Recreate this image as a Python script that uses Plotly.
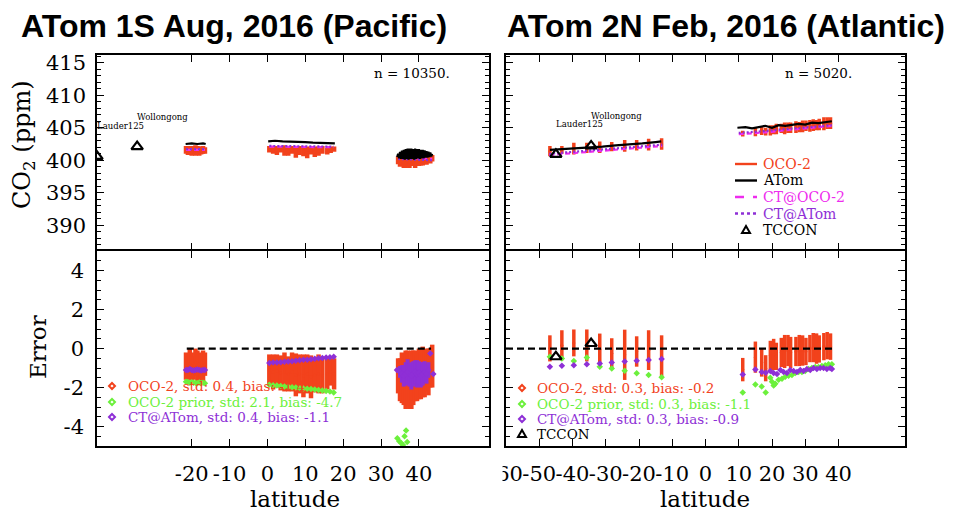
import plotly.graph_objects as go

# ======================= DATA =======================
# ---- Pacific (ATom 1S, Aug 2016) ----
pac_oco_lat = [-21.5, -21.0, -20.5, -20.0, -19.5, -19.0, -18.5, -18.0, -17.5, -17.0, -16.5,
               0.5, 1.5, 2.5, 3.5, 4.5, 5.5, 6.5, 7.5, 8.5, 9.5, 10.5, 11.5, 12.5, 13.5, 14.5, 15.8, 16.7, 17.6,
               34.5, 35.0, 35.5, 36.0, 36.5, 37.0, 37.5, 38.0, 38.5, 39.0, 39.5, 40.0, 40.5, 41.0, 41.5, 42.0,
               42.5, 43.0, 43.5]
pac_oco_co2 = [401.6, 401.5, 401.7, 401.4, 401.6, 401.5, 401.7, 401.4, 401.5, 401.6, 401.5,
               401.7, 401.6, 401.5, 401.7, 401.5, 401.4, 401.6, 401.3, 401.5, 401.4, 401.2, 401.5, 401.3, 401.4,
               401.6, 401.4, 401.6, 401.7,
               400.0, 399.8, 399.9, 399.7, 399.6, 399.8, 399.7, 399.9, 399.8, 399.7, 399.9, 399.8, 400.0, 399.9,
               400.1, 400.0, 400.2, 400.1, 400.3]
pac_oco_co2_spread = [0.6, 0.7, 0.5, 0.7, 0.6, 0.8, 0.5, 0.7, 0.6, 0.6, 0.5,
                      0.5, 0.6, 0.7, 0.5, 0.8, 0.7, 0.6, 0.9, 0.7, 0.8, 0.9, 0.6, 0.8, 0.7, 0.6, 0.5, 0.5, 0.4,
                      0.6, 0.8, 0.7, 0.9, 0.8, 0.7, 0.9, 0.8, 0.7, 0.9, 0.8, 0.7, 0.8, 0.7, 0.6, 0.7, 0.6, 0.6, 0.5]
pac_oco_err = [-0.9, -1.0, -0.8, -0.9, -1.0, -0.7, -0.9, -0.8, -1.0, -0.9, -0.8,
               -1.1, -1.2, -1.15, -1.25, -1.2, -1.3, -1.2, -1.35, -1.3, -1.4, -1.3, -1.45, -1.35, -1.3, -1.4,
               -1.3, -1.2, -1.3,
               -1.4, -1.6, -1.5, -1.7, -1.6, -1.5, -1.8, -1.6, -1.5, -1.4, -1.5, -1.3, -1.4, -1.2, -1.3, -1.1,
               -1.2, -1.0, -0.9]
pac_oco_err_spread = [0.7, 0.6, 0.8, 0.7, 0.6, 0.7, 0.8, 0.6, 0.7, 0.8, 0.6,
                      0.8, 0.9, 0.85, 0.9, 1.0, 0.9, 1.0, 1.1, 1.0, 1.1, 1.0, 1.1, 0.9, 1.0, 0.9, 0.8, 0.7, 0.8,
                      0.9, 1.1, 1.3, 1.2, 1.5, 1.4, 1.3, 1.5, 1.4, 1.3, 1.2, 1.3, 1.2, 1.3, 1.2, 1.1, 1.2, 1.0, 1.1]

pac_atom_lat = [-21.6, -20.0, -18.5, -17.0, -16.3, None,
                0.2, 2.0, 4.0, 6.0, 8.0, 10.0, 12.0, 14.0, 16.0, 17.8, None,
                34.25, 34.5, 34.75, 35.0, 35.25, 35.5, 35.75, 36.0, 36.25, 36.5, 36.75, 37.0, 37.25, 37.5,
                37.75, 38.0, 38.25, 38.5, 38.75, 39.0, 39.25, 39.5, 39.75, 40.0, 40.25, 40.5, 40.75, 41.0,
                41.25, 41.5, 41.75, 42.0, 42.25, 42.5, 42.75, 43.0, 43.25, 43.5]
pac_atom_co2 = [402.5, 402.6, 402.5, 402.6, 402.5, None,
                402.9, 403.0, 402.9, 402.9, 402.8, 402.8, 402.7, 402.7, 402.6, 402.6, None,
                400.5, 401.0, 400.3, 401.3, 400.2, 401.5, 400.2, 401.6, 400.1, 401.7, 400.2, 401.8, 400.1,
                401.8, 400.2, 401.8, 400.2, 401.7, 400.1, 401.8, 400.2, 401.7, 400.3, 401.7, 400.2, 401.6,
                400.3, 401.6, 400.3, 401.5, 400.4, 401.4, 400.4, 401.3, 400.5, 401.2, 400.6, 401.0]

pac_ctoco_lat = [-21.5, -16.5, None, 0.5, 17.5, None, 34.5, 43.5]
pac_ctoco_co2 = [401.6, 401.6, None, 402.1, 402.0, None, 400.4, 400.2]
pac_ctatom_lat = [-21.5, -16.5, None, 0.5, 17.5, None, 34.5, 43.5]
pac_ctatom_co2 = [401.7, 401.7, None, 402.2, 402.1, None, 400.2, 400.0]

pac_prior_lat = [-21.5, -21.0, -20.5, -20.0, -19.5, -19.0, -18.5, -18.0, -17.5, -17.0, -16.5,
                 0.5, 1.5, 2.5, 3.5, 4.5, 5.5, 6.5, 7.5, 8.5, 9.5, 10.5, 11.5, 12.5, 13.5, 14.5, 15.5, 16.5, 17.5,
                 34.3, 34.8, 35.3, 35.8, 36.2, 36.6, 36.9]
pac_prior_err = [-1.70, -1.72, -1.75, -1.73, -1.76, -1.75, -1.78, -1.74, -1.77, -1.76, -1.78,
                 -1.86, -1.88, -1.90, -1.92, -1.95, -1.96, -1.98, -2.00, -2.02, -2.05, -2.06, -2.08, -2.10,
                 -2.12, -2.15, -2.18, -2.20, -2.25,
                 -4.6, -4.75, -4.85, -4.95, -4.5, -4.2, -4.8]

pac_ct_lat = [-21.5, -21.0, -20.5, -20.0, -19.5, -19.0, -18.5, -18.0, -17.5, -17.0, -16.5,
              0.5, 1.5, 2.5, 3.5, 4.5, 5.5, 6.5, 7.5, 8.5, 9.5, 10.5, 11.5, 12.5, 13.5, 14.5, 15.5, 16.5, 17.5,
              34.2, 35.0, 35.5, 36.0, 36.5, 37.0, 37.5, 38.0, 38.5, 39.0, 39.5, 40.0, 40.5, 41.0, 41.5, 42.0,
              42.5, 43.0, 43.8, 43.8]
pac_ct_err = [-1.10, -1.10, -1.05, -1.10, -1.12, -1.10, -1.08, -1.10, -1.12, -1.10, -1.10,
              -0.74, -0.72, -0.71, -0.70, -0.68, -0.66, -0.65, -0.62, -0.60, -0.58, -0.57, -0.55, -0.52,
              -0.50, -0.48, -0.46, -0.44, -0.42,
              -1.1, -1.2, -1.3, -1.4, -1.3, -1.2, -1.35, -1.4, -1.3, -1.2, -1.3, -1.25, -1.35, -1.3, -1.2,
              -1.3, -1.1, -0.25, -1.3]
pac_ct_spread = [0.03, 0.03, 0.03, 0.03, 0.03, 0.03, 0.03, 0.03, 0.03, 0.03, 0.03,
                 0.03, 0.03, 0.03, 0.03, 0.03, 0.03, 0.03, 0.03, 0.03, 0.03, 0.03, 0.03, 0.03, 0.03, 0.03,
                 0.03, 0.03, 0.03,
                 0.05, 0.3, 0.45, 0.55, 0.6, 0.65, 0.6, 0.7, 0.65, 0.6, 0.7, 0.6, 0.65, 0.6, 0.55, 0.5, 0.4,
                 0.03, 0.03]

pac_zero_lat = [-21.3, 43.2]
pac_zero_val = [0, 0]

# ---- Atlantic (ATom 2N, Feb 2016) ----
atl_oco_lat = [-46.8, -43.2, -39.6, -35.7, -31.8, -28.2, -24.3, -20.7, -17.1, -13.2,
               11.2, 15.0, 16.9, 18.1,
               19.5, 20.5, 21.3, 22.8, 23.8, 24.8, 25.6, 27.2, 28.2, 29.2, 30.2, 31.4, 32.4, 33.4, 34.2,
               35.6, 36.6, 37.6]
atl_oco_co2 = [401.4, 401.6, 401.8, 401.9, 402.0, 402.1, 402.2, 402.3, 402.4, 402.5,
               404.1, 404.4, 404.5, 404.4,
               404.6, 404.7, 404.8, 404.9, 404.9, 405.0, 405.0, 405.1, 405.1, 405.2, 405.3, 405.3, 405.4,
               405.4, 405.5, 405.6, 405.7, 405.7]
atl_oco_co2_spread = [0.8, 0.6, 0.9, 0.8, 0.9, 0.7, 0.9, 0.8, 0.9, 0.9,
                      0.45, 0.7, 0.6, 0.6,
                      0.8, 0.7, 0.8, 0.7, 0.9, 0.8, 0.8, 0.9, 0.8, 0.9, 0.8, 0.9, 0.9, 0.8, 0.9, 1.0, 0.9, 0.9]
atl_oco_err = [0.01, 0.17, 0.29, 0.16, -0.03, -0.24, -0.32, -0.15, -0.08, -0.41,
               -1.08, -0.44, -0.72, -1.01,
               -0.35, -0.30, -0.40, -0.20, -0.15, -0.10, -0.20, -0.15, -0.10, -0.10, -0.15, 0.00, 0.05,
               0.00, -0.02, 0.10, 0.15, 0.10]
atl_oco_err_spread = [0.67, 0.77, 0.69, 0.82, 0.80, 0.77, 1.29, 0.78, 1.02, 1.09,
                      0.60, 0.80, 0.72, 0.67,
                      0.75, 0.80, 0.70, 0.75, 0.85, 0.80, 0.80, 0.75, 0.80, 0.78, 0.70, 0.70, 0.75, 0.78,
                      0.70, 0.70, 0.70, 0.68]

atl_atom_lat = [-46.8, -43.0, -39.0, -35.0, -31.0, -27.0, -23.0, -19.0, -15.0, -13.3, None,
                9.6, 12.0, 14.0, 16.0, 18.0, 20.0, 22.0, 24.0, 26.0, 28.0, 30.0, 32.0, 34.0, 36.0, 38.0]
atl_atom_co2 = [401.6, 401.7, 401.8, 402.0, 402.1, 402.3, 402.4, 402.6, 402.8, 402.9, None,
                405.0, 405.1, 404.9, 405.1, 405.3, 405.0, 405.4, 405.3, 405.5, 405.6, 405.5, 405.8, 405.7,
                405.9, 406.0]
atl_ctoco_lat = [-47.0, -13.0, None, 10.0, 14.0, 18.0, 22.0, 26.0, 30.0, 34.0, 38.0]
atl_ctoco_co2 = [400.8, 402.2, None, 404.0, 404.1, 404.3, 404.5, 404.7, 404.9, 405.1, 405.3]
atl_ctatom_lat = [-47.0, -13.0, None, 10.0, 14.0, 18.0, 22.0, 26.0, 30.0, 34.0, 38.0]
atl_ctatom_co2 = [401.0, 402.4, None, 404.2, 404.3, 404.5, 404.7, 404.9, 405.0, 405.2, 405.4]

atl_prior_lat = [-46.8, -43.2, -39.6, -35.7, -31.8, -28.2, -24.3, -20.7, -17.1, -13.2,
                 11.2, 15.0, 16.9, 18.1, 19.5, 20.0, 20.5, 21.0, 22.0, 23.0, 24.0, 25.0, 26.0, 27.0, 28.0,
                 29.0, 30.0, 31.0, 32.0, 33.0, 34.0, 35.0, 36.0, 37.0, 38.0]
atl_prior_err = [-0.42, -0.51, -0.64, -0.46, -0.93, -1.02, -1.14, -1.27, -1.36, -1.47,
                 -2.26, -1.85, -1.95, -2.26, -1.50, -1.70, -1.90, -1.80, -1.60, -1.55, -1.45, -1.40, -1.35,
                 -1.25, -1.20, -1.20, -1.15, -1.05, -1.00, -0.95, -0.95, -0.90, -0.85, -0.80, -0.80]
atl_ct_lat = [-46.8, -43.2, -39.6, -35.7, -31.8, -28.2, -24.3, -20.7, -17.1, -13.2,
              11.2, 15.0, 16.9, 18.1, 19.5, 20.5, 21.5, 22.5, 23.5, 24.5, 25.5, 26.5, 27.5, 28.5, 29.5,
              30.5, 31.5, 32.5, 33.5, 34.5, 35.5, 36.5, 37.5, 38.0]
atl_ct_err = [-0.93, -0.88, -0.85, -0.81, -0.76, -0.71, -0.66, -0.62, -0.59, -0.54,
              -1.33, -1.08, -1.20, -1.24, -1.15, -1.25, -1.30, -1.10, -1.20, -1.25, -1.10, -1.15, -1.20,
              -1.10, -1.15, -1.05, -1.10, -1.00, -1.05, -1.00, -1.00, -1.05, -1.00, -1.05]
atl_zero_lat = [-60.0, 38.2]
atl_zero_val = [0, 0]

# ---- TCCON ----
tccon_names = ["Lauder125", "Wollongong"]
tccon_lat = [-45.0, -34.4]
pac_tccon_co2 = [400.6, 402.1]
atl_tccon_co2 = [400.9, 402.2]
atl_tccon_err = [-0.42, 0.26]

# ---- ticks / texts ----
co2_ticks = [390, 395, 400, 405, 410, 415]
err_ticks = [-4, -2, 0, 2, 4]
err_ticktext = ["-4", "-2", "0", "2", "4"]
pac_xticks = [-20, -10, 0, 10, 20, 30, 40]
pac_xticktext = ["-20", "-10", "0", "10", "20", "30", "40"]
atl_xticks = [-60, -50, -40, -30, -20, -10, 0, 10, 20, 30, 40]
atl_xticktext = ["-60", "-50", "-40", "-30", "-20", "-10", "0", "10", "20", "30", "40"]

titles = ["ATom 1S Aug, 2016 (Pacific)", "ATom 2N Feb, 2016 (Atlantic)"]
n_labels = ["n = 10350.", "n = 5020."]
top_legend = ["OCO-2", "ATom", "CT@OCO-2", "CT@ATom", "TCCON"]
pac_err_legend = ["OCO-2, std: 0.4, bias: -1.4", "OCO-2 prior, std: 2.1, bias: -4.7",
                  "CT@ATom, std: 0.4, bias: -1.1"]
atl_err_legend = ["OCO-2, std: 0.3, bias: -0.2", "OCO-2 prior, std: 0.3, bias: -1.1",
                  "CT@ATom, std: 0.3, bias: -0.9", "TCCON"]

# ======================= STYLE =======================
W, H = 961, 511
RED = "#f2421c"
GREEN = "#6cf03c"
PURPLE = "#8e2fd6"
MAGENTA = "#ee2cee"
SERIF = "DejaVu Serif, Liberation Serif, serif"


def px(x):
    return x / W


def py(y):
    return 1 - y / H


fig = go.Figure()


def add(trace):
    fig.add_trace(trace)


def oco_trace(x, y, spread, xa, ya, thick):
    return go.Scatter(x=x, y=y, mode="markers", marker=dict(color=RED, size=3),
                      error_y=dict(type="data", array=spread, color=RED, thickness=thick, width=0),
                      xaxis=xa, yaxis=ya, showlegend=False, hoverinfo="skip")


def line_trace(x, y, color, dash, width, xa, ya):
    return go.Scatter(x=x, y=y, mode="lines", line=dict(color=color, dash=dash, width=width),
                      xaxis=xa, yaxis=ya, showlegend=False, connectgaps=False, hoverinfo="skip")


def tccon_trace(x, y, xa, ya):
    return go.Scatter(x=x, y=y, mode="markers",
                      marker=dict(symbol="triangle-up-open", size=10, color="black",
                                  line=dict(width=2.2, color="black")),
                      xaxis=xa, yaxis=ya, showlegend=False, hoverinfo="skip")


# --- top-left (Pacific CO2)
add(oco_trace(pac_oco_lat, pac_oco_co2, pac_oco_co2_spread, "x", "y", 4.5))
add(line_trace(pac_ctoco_lat, pac_ctoco_co2, MAGENTA, "5px,3px", 2.2, "x", "y"))
add(line_trace(pac_ctatom_lat, pac_ctatom_co2, PURPLE, "2px,2px", 2.2, "x", "y"))
add(line_trace(pac_atom_lat, pac_atom_co2, "black", "solid", 2.2, "x", "y"))
add(tccon_trace(tccon_lat, pac_tccon_co2, "x", "y"))

# --- top-right (Atlantic CO2)
add(oco_trace(atl_oco_lat, atl_oco_co2, atl_oco_co2_spread, "x2", "y2", 3.5))
add(line_trace(atl_ctoco_lat, atl_ctoco_co2, MAGENTA, "5px,3px", 2.2, "x2", "y2"))
add(line_trace(atl_ctatom_lat, atl_ctatom_co2, PURPLE, "2px,2px", 2.2, "x2", "y2"))
add(line_trace(atl_atom_lat, atl_atom_co2, "black", "solid", 2.2, "x2", "y2"))
add(tccon_trace(tccon_lat, atl_tccon_co2, "x2", "y2"))

# --- bottom-left (Pacific error)
add(oco_trace(pac_oco_lat, pac_oco_err, pac_oco_err_spread, "x3", "y3", 4.5))
add(go.Scatter(x=pac_prior_lat, y=pac_prior_err, mode="markers",
               marker=dict(symbol="diamond", size=5, color=GREEN),
               xaxis="x3", yaxis="y3", showlegend=False, hoverinfo="skip"))
add(go.Scatter(x=pac_ct_lat, y=pac_ct_err, mode="markers",
               marker=dict(symbol="diamond", size=5, color=PURPLE),
               error_y=dict(type="data", array=pac_ct_spread, color=PURPLE, thickness=4, width=0),
               xaxis="x3", yaxis="y3", showlegend=False, hoverinfo="skip"))
add(line_trace(pac_zero_lat, pac_zero_val, "black", "7px,4px", 2.2, "x3", "y3"))

# --- bottom-right (Atlantic error)
add(oco_trace(atl_oco_lat, atl_oco_err, atl_oco_err_spread, "x4", "y4", 3.5))
add(go.Scatter(x=atl_prior_lat, y=atl_prior_err, mode="markers",
               marker=dict(symbol="diamond", size=5, color=GREEN),
               xaxis="x4", yaxis="y4", showlegend=False, hoverinfo="skip"))
add(go.Scatter(x=atl_ct_lat, y=atl_ct_err, mode="markers",
               marker=dict(symbol="diamond", size=5, color=PURPLE),
               xaxis="x4", yaxis="y4", showlegend=False, hoverinfo="skip"))
add(line_trace(atl_zero_lat, atl_zero_val, "black", "7px,4px", 2.2, "x4", "y4"))
add(tccon_trace(tccon_lat, atl_tccon_err, "x4", "y4"))

# ======================= AXES =======================
LW = 1.5
xl = [px(97), px(489)]
xr = [px(506), px(905)]
ytop = [py(250 - LW / 2), py(55)]
ybot = [py(446), py(250 + LW / 2)]

common = dict(showline=True, linecolor="black", linewidth=LW, mirror="ticks", ticks="inside",
              tickcolor="black", tickwidth=1.4, showgrid=False, zeroline=False, automargin=False,
              tickfont=dict(family=SERIF, size=21, color="black"))

tick_x = dict(ticklen=7, tickmode="array", tickangle=0)


def minor_y(d):
    return dict(ticks="inside", ticklen=4, dtick=d, tickcolor="black", showgrid=False)


fig.update_layout(
    xaxis=dict(domain=xl, anchor="y", range=[-45, 58.5], tickvals=pac_xticks, showticklabels=False,
               **tick_x, **common),
    yaxis=dict(domain=ytop, anchor="x", range=[386.3, 416.2], tickvals=co2_ticks, ticklen=7,
               minor=minor_y(1), ticklabelstandoff=5, **common),
    xaxis2=dict(domain=xr, anchor="y2", range=[-60, 60], tickvals=atl_xticks, showticklabels=False,
                **tick_x, **common),
    yaxis2=dict(domain=ytop, anchor="x2", range=[386.3, 416.2], tickvals=co2_ticks, ticklen=7,
                minor=minor_y(1), showticklabels=False, **common),
    xaxis3=dict(domain=xl, anchor="y3", range=[-45, 58.5], tickvals=pac_xticks, ticktext=pac_xticktext,
                ticklabelstandoff=8, **tick_x, **common),
    yaxis3=dict(domain=ybot, anchor="x3", range=[-5.0, 5.02], tickvals=err_ticks, ticktext=err_ticktext,
                ticklen=7, minor=minor_y(0.5), ticklabelstandoff=7, **common),
    xaxis4=dict(domain=xr, anchor="y4", range=[-60, 60], tickvals=atl_xticks, ticktext=atl_xticktext,
                ticklabelstandoff=8, **tick_x, **common),
    yaxis4=dict(domain=ybot, anchor="x4", range=[-5.0, 5.02], tickvals=err_ticks, ticklen=7,
                minor=minor_y(0.5), showticklabels=False, **common),
)

# ======================= ANNOTATIONS =======================
ann = []
shapes = []


def text(x, y, s, size, color="black", family=SERIF, xanchor="left", angle=0, bold=False):
    ann.append(dict(x=px(x), y=py(y), xref="paper", yref="paper", text=("<b>%s</b>" % s) if bold else s,
                    showarrow=False, xanchor=xanchor, yanchor="middle", textangle=angle, borderpad=0,
                    font=dict(family=family, size=size, color=color)))


# titles
text(234, 26, titles[0], 32, family="Liberation Sans, Arial", xanchor="center", bold=True)
text(726, 26, titles[1], 32, family="Liberation Sans, Arial", xanchor="center", bold=True)
# axis titles
text(24, 145, "CO<sub>2</sub> (ppm)", 24, xanchor="center", angle=-90)
text(38, 347, "Error", 23, xanchor="center", angle=-90)
text(295, 499, "latitude", 23, xanchor="center")
text(705, 499, "latitude", 23, xanchor="center")
# n labels
text(373, 73, n_labels[0], 13.5)
text(784, 73, n_labels[1], 13.5)

# station labels
for xa, ya, vals in (("x", "y", pac_tccon_co2), ("x2", "y2", atl_tccon_co2)):
    for name, la, v in zip(tccon_names, tccon_lat, vals):
        ann.append(dict(x=la, y=v, xref=xa, yref=ya, text=name, showarrow=False, xanchor="left",
                        yanchor="middle", yshift=30, xshift=-1, borderpad=0,
                        font=dict(family=SERIF, size=8.5, color="black")))

# top-right legend
leg_rows = [164, 180.5, 197, 213.5, 230]
leg_cols = [RED, "black", MAGENTA, PURPLE, "black"]
leg_dash = ["solid", "solid", "dash", "dot"]
for i, (lab, col, yy) in enumerate(zip(top_legend, leg_cols, leg_rows)):
    text(762, yy, lab, 14, color=col)
    if i < 4:
        shapes.append(dict(type="line", xref="paper", yref="paper", x0=px(735), x1=px(757),
                           y0=py(yy), y1=py(yy), line=dict(color=col, width=2.4, dash=leg_dash[i])))
    else:
        shapes.append(dict(type="path", xref="paper", yref="paper",
                           path="M %f,%f L %f,%f L %f,%f Z" % (px(742), py(yy + 3), px(750), py(yy + 3),
                                                               px(746), py(yy - 4)),
                           line=dict(color="black", width=2)))


def diamond(cx, cy, col):
    shapes.append(dict(type="path", xref="paper", yref="paper",
                       path="M %f,%f L %f,%f L %f,%f L %f,%f Z" % (
                           px(cx - 3), py(cy), px(cx), py(cy - 3), px(cx + 3), py(cy), px(cx), py(cy + 3)),
                       line=dict(color=col, width=2)))


err_cols = [RED, GREEN, PURPLE]
for lab, col, yy in zip(pac_err_legend, err_cols, [386, 402, 417]):
    diamond(112, yy, col)
    text(127, yy, lab, 13.5, color=col)
for i, (lab, yy) in enumerate(zip(atl_err_legend, [388, 404, 419, 434])):
    if i < 3:
        diamond(522, yy, err_cols[i])
        text(536, yy, lab, 13.5, color=err_cols[i])
    else:
        shapes.append(dict(type="path", xref="paper", yref="paper",
                           path="M %f,%f L %f,%f L %f,%f Z" % (px(518), py(437), px(526), py(437), px(522), py(430)),
                           line=dict(color="black", width=2)))
        text(536, yy, lab, 13.5, color="black")

# crop of the first right-hand tick label (as in the composite figure)
shapes.append(dict(type="rect", xref="paper", yref="paper", layer="above", x0=px(470), x1=px(502.5),
                   y0=py(490), y1=py(456), fillcolor="white", line=dict(width=0)))

fig.update_layout(annotations=ann, shapes=shapes, width=W, height=H,
                  margin=dict(l=0, r=0, t=0, b=0, pad=0, autoexpand=False),
                  paper_bgcolor="white", plot_bgcolor="white", showlegend=False)

fig.write_html("out.html")
